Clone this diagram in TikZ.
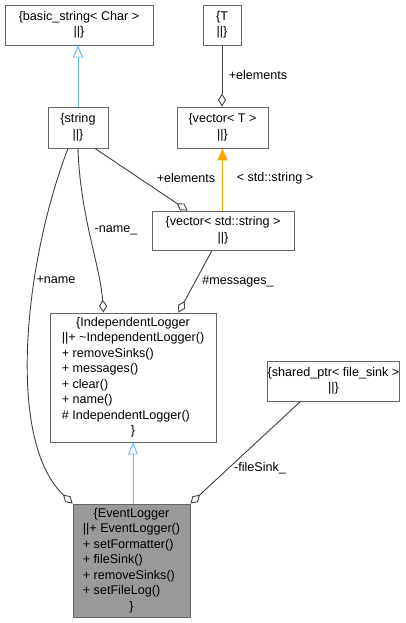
\documentclass[tikz,border=0pt]{standalone}
\usepackage{fontspec}
\setmainfont{Liberation Sans}
\usetikzlibrary{arrows.meta}
\definecolor{edgegray}{HTML}{404040}
\definecolor{boxgray}{HTML}{666666}
\definecolor{inherit}{HTML}{63B8FF}
\definecolor{tmpl}{HTML}{FFA500}
\definecolor{curfill}{HTML}{999999}
\newcommand{\ctrline}[1]{\multicolumn{1}{@{}c@{}}{#1}}
\begin{document}
\begin{tikzpicture}[x=1pt,y=-1pt,every node/.style={font=\fontsize{12.6}{15.5}\selectfont,inner sep=0pt},
  cls/.style={draw=boxgray,fill=white,line width=0.9pt,align=center},cur/.style={cls,fill=curfill},
  agg/.style={draw=edgegray,line width=0.9pt,-{Diamond[open,length=13pt,width=8pt]}},
  isa/.style={draw=inherit,line width=0.9pt,-{Triangle[open,length=12pt,width=10pt]}},
  tpl/.style={draw=tmpl,line width=0.9pt,-{Triangle[fill=tmpl,length=12pt,width=10pt]}}]
\useasboundingbox (0,0) rectangle (405,623);
% classes
\node[cls,minimum width=148pt,minimum height=40pt] (bstr) at (79,25) {\{basic\_string< Char >\\||\}};
\node[cls,minimum width=38pt,minimum height=40pt] (T) at (222,25) {\{T\\||\}};
\node[cls,minimum width=60pt,minimum height=41pt] (str) at (78,127.5) {\{string\\||\}};
\node[cls,minimum width=91pt,minimum height=41pt] (vecT) at (222.5,127.5) {\{vector< T >\\||\}};
\node[cls,minimum width=142pt,minimum height=39pt] (vecstr) at (223,230.5) {\{vector< std::string >\\||\}};
\node[cls,minimum width=166pt,minimum height=129pt] (indep) at (133,377.5) {\begin{tabular}{@{}l@{}}\ctrline{\{IndependentLogger}\\||+ \textasciitilde IndependentLogger()\\+ removeSinks()\\+ messages()\\+ clear()\\+ name()\\\# IndependentLogger()\\\ctrline{\}}\end{tabular}};
\node[cls,minimum width=129pt,minimum height=40pt] (shared) at (333.5,381) {\{shared\_ptr< file\_sink >\\||\}};
\node[cur,minimum width=117pt,minimum height=113pt] (event) at (131.5,560.5) {\begin{tabular}{@{}l@{}}\ctrline{\{EventLogger}\\||+ EventLogger()\\+ setFormatter()\\+ fileSink()\\+ removeSinks()\\+ setFileLog()\\\ctrline{\}}\end{tabular}};
% relations
\draw[isa] (str.north) -- (str.north |- bstr.south);
\draw[agg] (T.south) -- (T.south |- vecT.north);
\draw[tpl] (vecT.south |- vecstr.north) -- (vecT.south);
\draw[agg] ([xshift=17pt]str.south) -- ([xshift=36pt]vecstr.north west);
\draw[agg] (str.south) .. controls (80,215) and (100,265) .. ([xshift=54pt]indep.north west);
\draw[agg] ([xshift=-10pt]str.south) .. controls (25,260) and (5,440) .. (event.north west);
\draw[agg] ([xshift=-11pt]vecstr.south) -- ([xshift=-38pt]indep.north east);
\draw[isa] (indep.south |- event.north) -- (indep.south);
\draw[agg] ([xshift=-33pt]shared.south) -- (event.north east);
% labels
\node (l1) at (258,75) {+elements};
\node (l2) at (186,178) {+elements};
\node (l3) at (275,178) {< std::string >};
\node (l4) at (116,230) {-name\_};
\node (l5) at (56,280) {+name};
\node (l6) at (238,281) {\#messages\_};
\node (l7) at (260,468) {-fileSink\_};
\end{tikzpicture}
\end{document}
